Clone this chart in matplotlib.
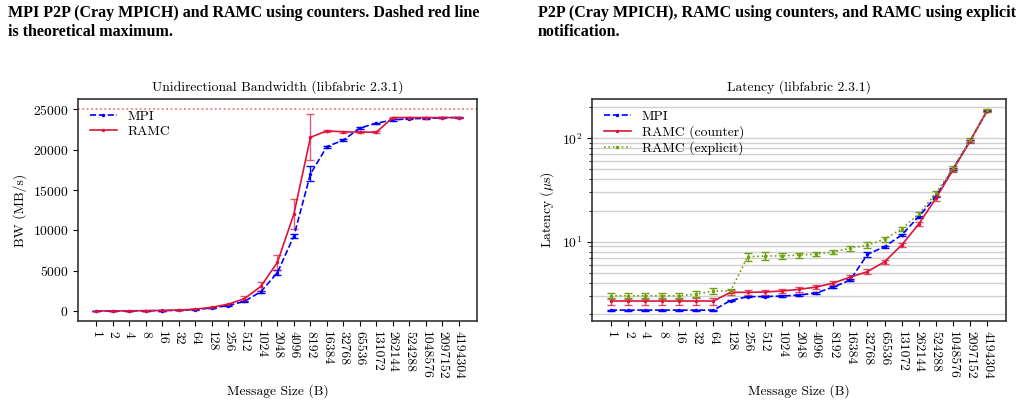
"""
Bandwidth and latency comparison: MPI P2P vs RAMC (libfabric 2.3.1).
"""

import numpy as np
import matplotlib
matplotlib.use("Agg")
import matplotlib.pyplot as plt

plt.rcParams["font.family"] = "serif"
plt.rcParams["font.serif"] = ["cmr10"]
plt.rcParams["mathtext.fontset"] = "cm"
plt.rcParams["axes.formatter.use_mathtext"] = True
plt.rcParams["axes.unicode_minus"] = False


# -------------------------------------------------------
# Data
# -------------------------------------------------------

sizes = ["1", "2", "4", "8", "16", "32", "64", "128", "256", "512", "1024",
         "2048", "4096", "8192", "16384", "32768", "65536", "131072",
         "262144", "524288", "1048576", "2097152", "4194304"]

bw_mpi = [3, 6, 12, 25, 45, 80, 160, 370, 660, 1200, 2400, 4770, 9320,
          17000, 20400, 21200, 22700, 23300, 23700, 23850, 23900, 23970, 24000]
bw_mpi_err = [10, 10, 10, 10, 10, 20, 30, 40, 60, 80, 120, 350, 270,
              930, 120, 100, 100, 80, 80, 60, 60, 60, 60]

bw_ramc = [4, 8, 16, 32, 60, 110, 220, 450, 830, 1530, 3060, 6050, 12060,
           21550, 22350, 22230, 22190, 22190, 24000, 24000, 24000, 24000, 24000]
bw_ramc_err = [10, 10, 10, 10, 10, 20, 30, 50, 80, 310, 540, 930, 1860,
               2870, 150, 150, 150, 150, 80, 60, 60, 60, 60]

bw_max = 25000

lat_mpi = [2.18, 2.18, 2.18, 2.18, 2.18, 2.18, 2.18, 2.70, 2.94, 2.95, 2.98,
           3.05, 3.19, 3.64, 4.26, 7.54, 8.95, 11.6, 17.5, 27.3, 50.5, 94.2, 185]
lat_mpi_err = [0.03, 0.03, 0.03, 0.03, 0.03, 0.03, 0.03, 0.05, 0.05, 0.05, 0.05,
               0.05, 0.06, 0.08, 0.12, 0.35, 0.2, 0.3, 0.4, 0.5, 0.8, 1.5, 2.5]

lat_counter = [2.67, 2.67, 2.67, 2.67, 2.67, 2.67, 2.67, 3.24, 3.24, 3.26, 3.34,
               3.46, 3.64, 3.98, 4.55, 5.13, 6.40, 9.28, 14.8, 26.2, 49.4, 93.6, 185]
lat_counter_err = [0.2, 0.2, 0.2, 0.2, 0.2, 0.2, 0.2, 0.18, 0.18, 0.18, 0.18,
                   0.18, 0.18, 0.2, 0.25, 0.28, 0.3, 0.45, 0.7, 1.2, 2.0, 3.5, 5.0]

lat_explicit = [3.0, 3.0, 3.0, 3.0, 3.0, 3.12, 3.34, 3.34, 7.16, 7.27, 7.30,
                7.43, 7.60, 7.95, 8.69, 9.23, 10.6, 13.3, 18.5, 29.4, 51.3, 95.7, 187]
lat_explicit_err = [0.22, 0.22, 0.22, 0.22, 0.22, 0.22, 0.22, 0.18, 0.7, 0.6, 0.5,
                    0.4, 0.35, 0.3, 0.5, 0.6, 0.6, 0.7, 1.0, 1.5, 2.5, 4.0, 6.0]

BLUE = "#0000ff"
RED = "#dc143c"
GREEN = "#6fa010"
FS = 9.8


# -------------------------------------------------------
# Figure
# -------------------------------------------------------

fig = plt.figure(figsize=(10.22, 4.04), dpi=100)
ax1 = fig.add_axes([0.0763, 0.2054, 0.3904, 0.5495])
ax2 = fig.add_axes([0.5793, 0.2054, 0.4050, 0.5495])

x = np.arange(len(sizes))
ekw = dict(marker=".", markersize=3, capsize=3, elinewidth=1.0, capthick=1.0,
           linewidth=1.2)

# --- bandwidth ---
e1 = ax1.errorbar(x, bw_mpi, yerr=bw_mpi_err, color=BLUE, linestyle="--",
                  ecolor=BLUE, **ekw)
e2 = ax1.errorbar(x, bw_ramc, yerr=bw_ramc_err, color=RED, linestyle="-",
                  ecolor=(0.86, 0.08, 0.24, 0.7), **ekw)
ax1.axhline(bw_max, color="red", linestyle=":", linewidth=1.2, alpha=0.6)
ax1.set_ylim(-1250, 26300)
ax1.set_xticks(x)
ax1.set_xticklabels(sizes, rotation=270)
ax1.set_xlabel("Message Size (B)", fontsize=FS)
ax1.set_ylabel("BW (MB/s)", fontsize=FS)
ax1.set_title("Unidirectional Bandwidth (libfabric 2.3.1)", fontsize=FS)
ax1.legend([e1[0], e2[0]], ["MPI", "RAMC"], loc="upper left", frameon=False,
           fontsize=FS, borderaxespad=0.45, handlelength=2.0, labelspacing=0.15)

# --- latency ---
l1 = ax2.errorbar(x, lat_mpi, yerr=lat_mpi_err, color=BLUE, linestyle="--",
                  ecolor=BLUE, **ekw)
l2 = ax2.errorbar(x, lat_counter, yerr=lat_counter_err, color=RED, linestyle="-",
                  ecolor=(0.86, 0.08, 0.24, 0.75), **ekw)
l3 = ax2.errorbar(x, lat_explicit, yerr=lat_explicit_err, color=GREEN,
                  linestyle=":", ecolor=GREEN, **ekw)
ax2.set_yscale("log")
ax2.set_ylim(1.71, 240)
ax2.grid(True, which="both", axis="y", color="#d0d0d0", linewidth=1.0)
ax2.set_axisbelow(True)
ax2.set_xticks(x)
ax2.set_xticklabels(sizes, rotation=270)
ax2.set_xlabel("Message Size (B)", fontsize=FS)
ax2.set_ylabel(r"Latency ($\mu$s)", fontsize=FS)
ax2.set_title("Latency (libfabric 2.3.1)", fontsize=FS)
ax2.legend([l1[0], l2[0], l3[0]], ["MPI", "RAMC (counter)", "RAMC (explicit)"],
           loc="upper left", frameon=False, fontsize=FS,
           borderaxespad=0.45, handlelength=2.0, labelspacing=0.15)

for ax in (ax1, ax2):
    ax.set_xlim(-1.1, len(sizes) - 1 + 1.1)
    ax.tick_params(labelsize=FS)
    for s in ax.spines.values():
        s.set_color("#333333")
        s.set_linewidth(1.2)

# --- captions ---
cap = dict(fontsize=11.5, fontweight="bold", family="Liberation Serif",
           va="baseline")
fig.text(0.008, 1 - 17 / 404, "MPI P2P (Cray MPICH) and RAMC using counters. Dashed red line", **cap)
fig.text(0.008, 1 - 36 / 404, "is theoretical maximum.", **cap)
fig.text(0.526, 1 - 17 / 404, "P2P (Cray MPICH), RAMC using counters, and RAMC using explicit", **cap)
fig.text(0.526, 1 - 36 / 404, "notification.", **cap)

fig.savefig("out.png", dpi=100)
